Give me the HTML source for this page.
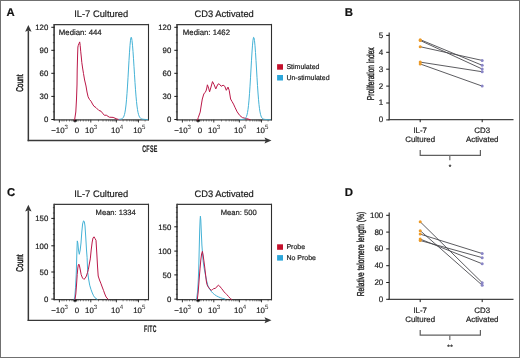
<!DOCTYPE html>
<html><head><meta charset="utf-8"><style>
html,body{margin:0;padding:0;background:#fff;}
svg{display:block;font-family:"Liberation Sans", sans-serif;will-change:transform;text-rendering:geometricPrecision;}
text{stroke:#222;stroke-width:0.2px;}
</style></head><body>
<svg width="520" height="358" viewBox="0 0 520 358">
<rect width="520" height="358" fill="#fff"/>
<text x="6.4" y="16.1" font-size="11.3" text-anchor="start" font-weight="bold" fill="#111">A</text>
<line x1="28.35" y1="30.5" x2="28.35" y2="141.2" stroke="#383838" stroke-width="1.5"/>
<polygon points="25.15,31.7 28.35,25.0 31.55,31.7 28.35,30.5" fill="#383838"/>
<line x1="27.65" y1="140.5" x2="266" y2="140.5" stroke="#383838" stroke-width="1.35"/>
<polygon points="264.5,137.5 271.5,140.5 264.5,143.5 265.8,140.5" fill="#383838"/>
<line x1="54.1" y1="23.9" x2="54.1" y2="120.55" stroke="#3a3a3a" stroke-width="1.6"/>
<line x1="148.5" y1="23.9" x2="148.5" y2="120.55" stroke="#2e2e2e" stroke-width="1.1"/>
<line x1="54.1" y1="24.6" x2="148.5" y2="24.6" stroke="#3c3c3c" stroke-width="1.4"/>
<line x1="54.1" y1="119.85" x2="148.5" y2="119.85" stroke="#3c3c3c" stroke-width="1.4"/>
<line x1="51.3" y1="27.3" x2="54.5" y2="27.3" stroke="#1a1a1a" stroke-width="1"/>
<text x="48.3" y="30.05" font-size="7.8" text-anchor="end" font-weight="normal" fill="#222">120</text>
<line x1="51.3" y1="50.3" x2="54.5" y2="50.3" stroke="#1a1a1a" stroke-width="1"/>
<text x="48.3" y="53.05" font-size="7.8" text-anchor="end" font-weight="normal" fill="#222">90</text>
<line x1="51.3" y1="73.3" x2="54.5" y2="73.3" stroke="#1a1a1a" stroke-width="1"/>
<text x="48.3" y="76.05" font-size="7.8" text-anchor="end" font-weight="normal" fill="#222">60</text>
<line x1="51.3" y1="96.4" x2="54.5" y2="96.4" stroke="#1a1a1a" stroke-width="1"/>
<text x="48.3" y="99.15" font-size="7.8" text-anchor="end" font-weight="normal" fill="#222">30</text>
<line x1="51.3" y1="119.5" x2="54.5" y2="119.5" stroke="#1a1a1a" stroke-width="1"/>
<text x="48.3" y="122.25" font-size="7.8" text-anchor="end" font-weight="normal" fill="#222">0</text>
<line x1="52.9" y1="111.82" x2="54.5" y2="111.82" stroke="#333" stroke-width="0.8"/>
<line x1="52.9" y1="104.13" x2="54.5" y2="104.13" stroke="#333" stroke-width="0.8"/>
<line x1="52.9" y1="88.77" x2="54.5" y2="88.77" stroke="#333" stroke-width="0.8"/>
<line x1="52.9" y1="81.08" x2="54.5" y2="81.08" stroke="#333" stroke-width="0.8"/>
<line x1="52.9" y1="65.72" x2="54.5" y2="65.72" stroke="#333" stroke-width="0.8"/>
<line x1="52.9" y1="58.03" x2="54.5" y2="58.03" stroke="#333" stroke-width="0.8"/>
<line x1="52.9" y1="42.67" x2="54.5" y2="42.67" stroke="#333" stroke-width="0.8"/>
<line x1="52.9" y1="34.98" x2="54.5" y2="34.98" stroke="#333" stroke-width="0.8"/>
<line x1="59.4" y1="119.8" x2="59.4" y2="122.5" stroke="#222" stroke-width="0.9"/>
<line x1="75" y1="119.8" x2="75" y2="122.5" stroke="#222" stroke-width="0.9"/>
<line x1="90.8" y1="119.8" x2="90.8" y2="122.5" stroke="#222" stroke-width="0.9"/>
<line x1="116.4" y1="119.8" x2="116.4" y2="122.5" stroke="#222" stroke-width="0.9"/>
<line x1="138.5" y1="119.8" x2="138.5" y2="122.5" stroke="#222" stroke-width="0.9"/>
<line x1="62" y1="119.8" x2="62" y2="121.5" stroke="#333" stroke-width="0.6"/>
<line x1="64" y1="119.8" x2="64" y2="121.5" stroke="#333" stroke-width="0.6"/>
<line x1="66.5" y1="119.8" x2="66.5" y2="121.5" stroke="#333" stroke-width="0.6"/>
<line x1="69.5" y1="119.8" x2="69.5" y2="121.5" stroke="#333" stroke-width="0.6"/>
<line x1="72" y1="119.8" x2="72" y2="121.5" stroke="#333" stroke-width="0.6"/>
<line x1="78" y1="119.8" x2="78" y2="121.5" stroke="#333" stroke-width="0.6"/>
<line x1="80.5" y1="119.8" x2="80.5" y2="121.5" stroke="#333" stroke-width="0.6"/>
<line x1="83.3" y1="119.8" x2="83.3" y2="121.5" stroke="#333" stroke-width="0.6"/>
<line x1="86" y1="119.8" x2="86" y2="121.5" stroke="#333" stroke-width="0.6"/>
<line x1="88.5" y1="119.8" x2="88.5" y2="121.5" stroke="#333" stroke-width="0.6"/>
<line x1="98.5" y1="119.8" x2="98.5" y2="121.5" stroke="#333" stroke-width="0.6"/>
<line x1="103" y1="119.8" x2="103" y2="121.5" stroke="#333" stroke-width="0.6"/>
<line x1="106.2" y1="119.8" x2="106.2" y2="121.5" stroke="#333" stroke-width="0.6"/>
<line x1="108.7" y1="119.8" x2="108.7" y2="121.5" stroke="#333" stroke-width="0.6"/>
<line x1="110.7" y1="119.8" x2="110.7" y2="121.5" stroke="#333" stroke-width="0.6"/>
<line x1="112.4" y1="119.8" x2="112.4" y2="121.5" stroke="#333" stroke-width="0.6"/>
<line x1="113.9" y1="119.8" x2="113.9" y2="121.5" stroke="#333" stroke-width="0.6"/>
<line x1="115.2" y1="119.8" x2="115.2" y2="121.5" stroke="#333" stroke-width="0.6"/>
<line x1="123.1" y1="119.8" x2="123.1" y2="121.5" stroke="#333" stroke-width="0.6"/>
<line x1="126.9" y1="119.8" x2="126.9" y2="121.5" stroke="#333" stroke-width="0.6"/>
<line x1="129.7" y1="119.8" x2="129.7" y2="121.5" stroke="#333" stroke-width="0.6"/>
<line x1="131.8" y1="119.8" x2="131.8" y2="121.5" stroke="#333" stroke-width="0.6"/>
<line x1="133.6" y1="119.8" x2="133.6" y2="121.5" stroke="#333" stroke-width="0.6"/>
<line x1="135.1" y1="119.8" x2="135.1" y2="121.5" stroke="#333" stroke-width="0.6"/>
<line x1="136.4" y1="119.8" x2="136.4" y2="121.5" stroke="#333" stroke-width="0.6"/>
<line x1="137.5" y1="119.8" x2="137.5" y2="121.5" stroke="#333" stroke-width="0.6"/>
<line x1="145.1" y1="119.8" x2="145.1" y2="121.5" stroke="#333" stroke-width="0.6"/>
<rect x="73.4" y="119.8" width="3.4" height="1.9" fill="#111"/>
<text x="59.6" y="132.7" font-size="7.9" text-anchor="middle" fill="#222">−10<tspan font-size="6.1" dy="-3.4" stroke-width="0">3</tspan></text>
<text x="77" y="132.7" font-size="7.9" text-anchor="middle" font-weight="normal" fill="#222">0</text>
<text x="91.1" y="132.7" font-size="7.9" text-anchor="middle" fill="#222">10<tspan font-size="6.1" dy="-3.4" stroke-width="0">3</tspan></text>
<text x="117.1" y="132.7" font-size="7.9" text-anchor="middle" fill="#222">10<tspan font-size="6.1" dy="-3.4" stroke-width="0">4</tspan></text>
<text x="139.3" y="132.7" font-size="7.9" text-anchor="middle" fill="#222">10<tspan font-size="6.1" dy="-3.4" stroke-width="0">5</tspan></text>
<line x1="177" y1="23.9" x2="177" y2="120.55" stroke="#3a3a3a" stroke-width="1.6"/>
<line x1="271.5" y1="23.9" x2="271.5" y2="120.55" stroke="#2e2e2e" stroke-width="1.1"/>
<line x1="177" y1="24.6" x2="271.5" y2="24.6" stroke="#3c3c3c" stroke-width="1.4"/>
<line x1="177" y1="119.85" x2="271.5" y2="119.85" stroke="#3c3c3c" stroke-width="1.4"/>
<line x1="174.3" y1="27.3" x2="177.5" y2="27.3" stroke="#1a1a1a" stroke-width="1"/>
<text x="171.3" y="30.05" font-size="7.8" text-anchor="end" font-weight="normal" fill="#222">120</text>
<line x1="174.3" y1="50.3" x2="177.5" y2="50.3" stroke="#1a1a1a" stroke-width="1"/>
<text x="171.3" y="53.05" font-size="7.8" text-anchor="end" font-weight="normal" fill="#222">90</text>
<line x1="174.3" y1="73.3" x2="177.5" y2="73.3" stroke="#1a1a1a" stroke-width="1"/>
<text x="171.3" y="76.05" font-size="7.8" text-anchor="end" font-weight="normal" fill="#222">60</text>
<line x1="174.3" y1="96.4" x2="177.5" y2="96.4" stroke="#1a1a1a" stroke-width="1"/>
<text x="171.3" y="99.15" font-size="7.8" text-anchor="end" font-weight="normal" fill="#222">30</text>
<line x1="174.3" y1="119.5" x2="177.5" y2="119.5" stroke="#1a1a1a" stroke-width="1"/>
<text x="171.3" y="122.25" font-size="7.8" text-anchor="end" font-weight="normal" fill="#222">0</text>
<line x1="175.9" y1="111.82" x2="177.5" y2="111.82" stroke="#333" stroke-width="0.8"/>
<line x1="175.9" y1="104.13" x2="177.5" y2="104.13" stroke="#333" stroke-width="0.8"/>
<line x1="175.9" y1="88.77" x2="177.5" y2="88.77" stroke="#333" stroke-width="0.8"/>
<line x1="175.9" y1="81.08" x2="177.5" y2="81.08" stroke="#333" stroke-width="0.8"/>
<line x1="175.9" y1="65.72" x2="177.5" y2="65.72" stroke="#333" stroke-width="0.8"/>
<line x1="175.9" y1="58.03" x2="177.5" y2="58.03" stroke="#333" stroke-width="0.8"/>
<line x1="175.9" y1="42.67" x2="177.5" y2="42.67" stroke="#333" stroke-width="0.8"/>
<line x1="175.9" y1="34.98" x2="177.5" y2="34.98" stroke="#333" stroke-width="0.8"/>
<line x1="182.4" y1="119.8" x2="182.4" y2="122.5" stroke="#222" stroke-width="0.9"/>
<line x1="198" y1="119.8" x2="198" y2="122.5" stroke="#222" stroke-width="0.9"/>
<line x1="213.8" y1="119.8" x2="213.8" y2="122.5" stroke="#222" stroke-width="0.9"/>
<line x1="239.4" y1="119.8" x2="239.4" y2="122.5" stroke="#222" stroke-width="0.9"/>
<line x1="261.5" y1="119.8" x2="261.5" y2="122.5" stroke="#222" stroke-width="0.9"/>
<line x1="185" y1="119.8" x2="185" y2="121.5" stroke="#333" stroke-width="0.6"/>
<line x1="187" y1="119.8" x2="187" y2="121.5" stroke="#333" stroke-width="0.6"/>
<line x1="189.5" y1="119.8" x2="189.5" y2="121.5" stroke="#333" stroke-width="0.6"/>
<line x1="192.5" y1="119.8" x2="192.5" y2="121.5" stroke="#333" stroke-width="0.6"/>
<line x1="195" y1="119.8" x2="195" y2="121.5" stroke="#333" stroke-width="0.6"/>
<line x1="201" y1="119.8" x2="201" y2="121.5" stroke="#333" stroke-width="0.6"/>
<line x1="203.5" y1="119.8" x2="203.5" y2="121.5" stroke="#333" stroke-width="0.6"/>
<line x1="206.3" y1="119.8" x2="206.3" y2="121.5" stroke="#333" stroke-width="0.6"/>
<line x1="209" y1="119.8" x2="209" y2="121.5" stroke="#333" stroke-width="0.6"/>
<line x1="211.5" y1="119.8" x2="211.5" y2="121.5" stroke="#333" stroke-width="0.6"/>
<line x1="221.5" y1="119.8" x2="221.5" y2="121.5" stroke="#333" stroke-width="0.6"/>
<line x1="226" y1="119.8" x2="226" y2="121.5" stroke="#333" stroke-width="0.6"/>
<line x1="229.2" y1="119.8" x2="229.2" y2="121.5" stroke="#333" stroke-width="0.6"/>
<line x1="231.7" y1="119.8" x2="231.7" y2="121.5" stroke="#333" stroke-width="0.6"/>
<line x1="233.7" y1="119.8" x2="233.7" y2="121.5" stroke="#333" stroke-width="0.6"/>
<line x1="235.4" y1="119.8" x2="235.4" y2="121.5" stroke="#333" stroke-width="0.6"/>
<line x1="236.9" y1="119.8" x2="236.9" y2="121.5" stroke="#333" stroke-width="0.6"/>
<line x1="238.2" y1="119.8" x2="238.2" y2="121.5" stroke="#333" stroke-width="0.6"/>
<line x1="246.1" y1="119.8" x2="246.1" y2="121.5" stroke="#333" stroke-width="0.6"/>
<line x1="249.9" y1="119.8" x2="249.9" y2="121.5" stroke="#333" stroke-width="0.6"/>
<line x1="252.7" y1="119.8" x2="252.7" y2="121.5" stroke="#333" stroke-width="0.6"/>
<line x1="254.8" y1="119.8" x2="254.8" y2="121.5" stroke="#333" stroke-width="0.6"/>
<line x1="256.6" y1="119.8" x2="256.6" y2="121.5" stroke="#333" stroke-width="0.6"/>
<line x1="258.1" y1="119.8" x2="258.1" y2="121.5" stroke="#333" stroke-width="0.6"/>
<line x1="259.4" y1="119.8" x2="259.4" y2="121.5" stroke="#333" stroke-width="0.6"/>
<line x1="260.5" y1="119.8" x2="260.5" y2="121.5" stroke="#333" stroke-width="0.6"/>
<line x1="268.1" y1="119.8" x2="268.1" y2="121.5" stroke="#333" stroke-width="0.6"/>
<rect x="196.4" y="119.8" width="3.4" height="1.9" fill="#111"/>
<text x="182.6" y="132.7" font-size="7.9" text-anchor="middle" fill="#222">−10<tspan font-size="6.1" dy="-3.4" stroke-width="0">3</tspan></text>
<text x="200" y="132.7" font-size="7.9" text-anchor="middle" font-weight="normal" fill="#222">0</text>
<text x="214.1" y="132.7" font-size="7.9" text-anchor="middle" fill="#222">10<tspan font-size="6.1" dy="-3.4" stroke-width="0">3</tspan></text>
<text x="240.1" y="132.7" font-size="7.9" text-anchor="middle" fill="#222">10<tspan font-size="6.1" dy="-3.4" stroke-width="0">4</tspan></text>
<text x="262.3" y="132.7" font-size="7.9" text-anchor="middle" fill="#222">10<tspan font-size="6.1" dy="-3.4" stroke-width="0">5</tspan></text>
<text transform="translate(142.2,151.7) scale(0.56,1)" x="0" y="0" font-size="9.6" letter-spacing="0.5" text-anchor="start" font-weight="bold" fill="#222">CFSE</text>
<text transform="translate(20.3,83.2) rotate(-90) scale(0.66,1)" x="0" y="0" font-size="9.8" text-anchor="middle" dominant-baseline="central" font-weight="normal" fill="#222" style="stroke-width:0.5px">Count</text>
<text x="101.2" y="16.9" font-size="9.35" text-anchor="middle" font-weight="normal" fill="#1a1a1a">IL-7 Cultured</text>
<text x="224.2" y="17" font-size="9.35" text-anchor="middle" font-weight="normal" fill="#1a1a1a">CD3 Activated</text>
<text x="58.8" y="35.2" font-size="7.8" text-anchor="start" font-weight="normal" fill="#222">Median: 444</text>
<text x="182.8" y="35.2" font-size="7.8" text-anchor="start" font-weight="normal" fill="#222">Median: 1462</text>
<rect x="277.1" y="64.2" width="5.9" height="5.5" fill="#c4102c"/>
<text x="286.4" y="69.2" font-size="7" text-anchor="start" font-weight="normal" fill="#222">Stimulated</text>
<rect x="277.1" y="75" width="5.9" height="5.5" fill="#2ba6da"/>
<text x="286.4" y="80" font-size="7" text-anchor="start" font-weight="normal" fill="#222">Un-stimulated</text>
<polyline points="74.60,120.00 75.20,116.00 75.80,112.00 76.50,99.00 77.00,85.00 77.20,70.00 77.60,55.00 77.90,47.00 78.30,45.30 79.00,43.50 79.70,41.90 80.20,45.50 80.70,51.20 81.30,57.00 81.80,62.40 82.60,68.00 83.50,73.60 84.60,80.00 85.30,83.00 86.00,86.00 87.00,92.00 88.10,96.80 89.50,99.50 91.00,101.20 92.50,104.00 93.90,106.20 96.00,107.60 98.80,110.40 101.00,111.20 102.50,113.10 104.40,115.30 106.30,115.20 109.30,117.20 113.10,117.40 116.90,119.00 120.00,119.80" fill="none" stroke="#bb1848" stroke-width="1.0" stroke-linejoin="round" stroke-linecap="round"/>
<polyline points="119.00,119.38 119.50,119.33 120.00,119.26 120.50,119.18 121.00,119.07 121.50,118.92 122.00,118.70 122.50,118.37 123.00,117.87 123.50,117.13 124.00,116.03 124.50,114.43 125.00,112.16 125.50,109.07 126.00,104.99 126.50,99.79 127.00,93.46 127.50,86.05 128.00,77.79 128.50,69.05 129.00,60.32 129.50,52.21 130.00,45.32 130.50,40.21 131.00,37.30 131.50,37.58 132.00,40.49 132.50,45.22 133.00,51.46 133.50,58.77 134.00,66.70 134.50,74.76 135.00,82.56 135.50,89.75 136.00,96.13 136.50,101.56 137.00,106.03 137.50,109.59 138.00,112.34 138.50,114.39 139.00,115.89 139.50,116.96 140.00,117.70 140.50,118.22 141.00,118.57 141.50,118.81 142.00,118.98 142.50,119.11 143.00,119.20 143.50,119.27 144.00,119.33 144.50,119.38 145.00,119.42 145.50,119.46 146.00,119.50 146.50,119.53 147.00,119.55 147.50,119.58" fill="none" stroke="#44b2d6" stroke-width="1.0" stroke-linejoin="round" stroke-linecap="round"/>
<polyline points="197.50,120.00 198.30,117.50 200.20,112.10 201.30,105.00 202.30,99.00 203.80,94.00 205.00,92.50 206.00,91.00 206.80,88.00 207.40,84.80 208.60,88.10 209.60,91.80 211.00,87.00 212.50,81.60 214.00,84.50 215.80,88.90 217.00,86.00 218.30,83.80 219.80,84.50 221.20,86.30 223.10,85.20 224.80,86.30 226.30,90.30 228.00,87.10 229.20,90.30 230.60,99.00 232.00,101.50 233.50,104.10 235.20,107.80 237.20,111.90 239.80,115.50 242.40,117.60 246.50,118.60 250.00,119.60" fill="none" stroke="#bb1848" stroke-width="1.0" stroke-linejoin="round" stroke-linecap="round"/>
<polyline points="240.00,119.62 240.50,119.59 241.00,119.57 241.50,119.54 242.00,119.50 242.50,119.46 243.00,119.40 243.50,119.31 244.00,119.19 244.50,119.00 245.00,118.70 245.50,118.24 246.00,117.52 246.50,116.44 247.00,114.85 247.50,112.59 248.00,109.49 248.50,105.37 249.00,100.12 249.50,93.70 250.00,86.20 250.50,77.83 251.00,68.98 251.50,60.17 252.00,52.01 252.50,45.13 253.00,40.12 253.50,37.39 254.00,37.70 254.50,40.70 255.00,45.80 255.50,52.57 256.00,60.50 256.50,69.01 257.00,77.56 257.50,85.66 258.00,92.99 258.50,99.31 259.00,104.55 259.50,108.72 260.00,111.93 260.50,114.30 261.00,116.01 261.50,117.19 262.00,118.00 262.50,118.53 263.00,118.88 263.50,119.10 264.00,119.25 264.50,119.35 265.00,119.42 265.50,119.47 266.00,119.51 266.50,119.55 267.00,119.57 267.50,119.60 268.00,119.62 268.50,119.64 269.00,119.66 269.50,119.67 270.00,119.68" fill="none" stroke="#44b2d6" stroke-width="1.0" stroke-linejoin="round" stroke-linecap="round"/>
<text x="6.9" y="196.4" font-size="11.3" text-anchor="start" font-weight="bold" fill="#111">C</text>
<line x1="28.35" y1="210.3" x2="28.35" y2="321" stroke="#383838" stroke-width="1.5"/>
<polygon points="25.15,211.5 28.35,204.8 31.55,211.5 28.35,210.3" fill="#383838"/>
<line x1="27.65" y1="320.3" x2="266" y2="320.3" stroke="#383838" stroke-width="1.35"/>
<polygon points="264.5,317.3 271.5,320.3 264.5,323.3 265.8,320.3" fill="#383838"/>
<line x1="54.1" y1="203.7" x2="54.1" y2="300.35" stroke="#3a3a3a" stroke-width="1.6"/>
<line x1="148.5" y1="203.7" x2="148.5" y2="300.35" stroke="#2e2e2e" stroke-width="1.1"/>
<line x1="54.1" y1="204.4" x2="148.5" y2="204.4" stroke="#3c3c3c" stroke-width="1.4"/>
<line x1="54.1" y1="299.65" x2="148.5" y2="299.65" stroke="#3c3c3c" stroke-width="1.4"/>
<line x1="51.3" y1="218.4" x2="54.5" y2="218.4" stroke="#1a1a1a" stroke-width="1"/>
<text x="48.3" y="221.15" font-size="7.8" text-anchor="end" font-weight="normal" fill="#222">150</text>
<line x1="51.3" y1="245.8" x2="54.5" y2="245.8" stroke="#1a1a1a" stroke-width="1"/>
<text x="48.3" y="248.55" font-size="7.8" text-anchor="end" font-weight="normal" fill="#222">100</text>
<line x1="51.3" y1="272" x2="54.5" y2="272" stroke="#1a1a1a" stroke-width="1"/>
<text x="48.3" y="274.75" font-size="7.8" text-anchor="end" font-weight="normal" fill="#222">50</text>
<line x1="51.3" y1="299.1" x2="54.5" y2="299.1" stroke="#1a1a1a" stroke-width="1"/>
<text x="48.3" y="301.85" font-size="7.8" text-anchor="end" font-weight="normal" fill="#222">0</text>
<line x1="52.9" y1="293.72" x2="54.5" y2="293.72" stroke="#333" stroke-width="0.8"/>
<line x1="52.9" y1="288.34" x2="54.5" y2="288.34" stroke="#333" stroke-width="0.8"/>
<line x1="52.9" y1="282.96" x2="54.5" y2="282.96" stroke="#333" stroke-width="0.8"/>
<line x1="52.9" y1="277.58" x2="54.5" y2="277.58" stroke="#333" stroke-width="0.8"/>
<line x1="52.9" y1="266.82" x2="54.5" y2="266.82" stroke="#333" stroke-width="0.8"/>
<line x1="52.9" y1="261.44" x2="54.5" y2="261.44" stroke="#333" stroke-width="0.8"/>
<line x1="52.9" y1="256.06" x2="54.5" y2="256.06" stroke="#333" stroke-width="0.8"/>
<line x1="52.9" y1="250.68" x2="54.5" y2="250.68" stroke="#333" stroke-width="0.8"/>
<line x1="52.9" y1="239.92" x2="54.5" y2="239.92" stroke="#333" stroke-width="0.8"/>
<line x1="52.9" y1="234.54" x2="54.5" y2="234.54" stroke="#333" stroke-width="0.8"/>
<line x1="52.9" y1="229.16" x2="54.5" y2="229.16" stroke="#333" stroke-width="0.8"/>
<line x1="52.9" y1="223.78" x2="54.5" y2="223.78" stroke="#333" stroke-width="0.8"/>
<line x1="52.9" y1="213.02" x2="54.5" y2="213.02" stroke="#333" stroke-width="0.8"/>
<line x1="52.9" y1="207.64" x2="54.5" y2="207.64" stroke="#333" stroke-width="0.8"/>
<line x1="59.4" y1="299.6" x2="59.4" y2="302.3" stroke="#222" stroke-width="0.9"/>
<line x1="75" y1="299.6" x2="75" y2="302.3" stroke="#222" stroke-width="0.9"/>
<line x1="90.8" y1="299.6" x2="90.8" y2="302.3" stroke="#222" stroke-width="0.9"/>
<line x1="116.4" y1="299.6" x2="116.4" y2="302.3" stroke="#222" stroke-width="0.9"/>
<line x1="138.5" y1="299.6" x2="138.5" y2="302.3" stroke="#222" stroke-width="0.9"/>
<line x1="62" y1="299.6" x2="62" y2="301.3" stroke="#333" stroke-width="0.6"/>
<line x1="64" y1="299.6" x2="64" y2="301.3" stroke="#333" stroke-width="0.6"/>
<line x1="66.5" y1="299.6" x2="66.5" y2="301.3" stroke="#333" stroke-width="0.6"/>
<line x1="69.5" y1="299.6" x2="69.5" y2="301.3" stroke="#333" stroke-width="0.6"/>
<line x1="72" y1="299.6" x2="72" y2="301.3" stroke="#333" stroke-width="0.6"/>
<line x1="78" y1="299.6" x2="78" y2="301.3" stroke="#333" stroke-width="0.6"/>
<line x1="80.5" y1="299.6" x2="80.5" y2="301.3" stroke="#333" stroke-width="0.6"/>
<line x1="83.3" y1="299.6" x2="83.3" y2="301.3" stroke="#333" stroke-width="0.6"/>
<line x1="86" y1="299.6" x2="86" y2="301.3" stroke="#333" stroke-width="0.6"/>
<line x1="88.5" y1="299.6" x2="88.5" y2="301.3" stroke="#333" stroke-width="0.6"/>
<line x1="98.5" y1="299.6" x2="98.5" y2="301.3" stroke="#333" stroke-width="0.6"/>
<line x1="103" y1="299.6" x2="103" y2="301.3" stroke="#333" stroke-width="0.6"/>
<line x1="106.2" y1="299.6" x2="106.2" y2="301.3" stroke="#333" stroke-width="0.6"/>
<line x1="108.7" y1="299.6" x2="108.7" y2="301.3" stroke="#333" stroke-width="0.6"/>
<line x1="110.7" y1="299.6" x2="110.7" y2="301.3" stroke="#333" stroke-width="0.6"/>
<line x1="112.4" y1="299.6" x2="112.4" y2="301.3" stroke="#333" stroke-width="0.6"/>
<line x1="113.9" y1="299.6" x2="113.9" y2="301.3" stroke="#333" stroke-width="0.6"/>
<line x1="115.2" y1="299.6" x2="115.2" y2="301.3" stroke="#333" stroke-width="0.6"/>
<line x1="123.1" y1="299.6" x2="123.1" y2="301.3" stroke="#333" stroke-width="0.6"/>
<line x1="126.9" y1="299.6" x2="126.9" y2="301.3" stroke="#333" stroke-width="0.6"/>
<line x1="129.7" y1="299.6" x2="129.7" y2="301.3" stroke="#333" stroke-width="0.6"/>
<line x1="131.8" y1="299.6" x2="131.8" y2="301.3" stroke="#333" stroke-width="0.6"/>
<line x1="133.6" y1="299.6" x2="133.6" y2="301.3" stroke="#333" stroke-width="0.6"/>
<line x1="135.1" y1="299.6" x2="135.1" y2="301.3" stroke="#333" stroke-width="0.6"/>
<line x1="136.4" y1="299.6" x2="136.4" y2="301.3" stroke="#333" stroke-width="0.6"/>
<line x1="137.5" y1="299.6" x2="137.5" y2="301.3" stroke="#333" stroke-width="0.6"/>
<line x1="145.1" y1="299.6" x2="145.1" y2="301.3" stroke="#333" stroke-width="0.6"/>
<rect x="73.4" y="299.6" width="3.4" height="1.9" fill="#111"/>
<text x="59.6" y="312.5" font-size="7.9" text-anchor="middle" fill="#222">−10<tspan font-size="6.1" dy="-3.4" stroke-width="0">3</tspan></text>
<text x="77" y="312.5" font-size="7.9" text-anchor="middle" font-weight="normal" fill="#222">0</text>
<text x="91.1" y="312.5" font-size="7.9" text-anchor="middle" fill="#222">10<tspan font-size="6.1" dy="-3.4" stroke-width="0">3</tspan></text>
<text x="117.1" y="312.5" font-size="7.9" text-anchor="middle" fill="#222">10<tspan font-size="6.1" dy="-3.4" stroke-width="0">4</tspan></text>
<text x="139.3" y="312.5" font-size="7.9" text-anchor="middle" fill="#222">10<tspan font-size="6.1" dy="-3.4" stroke-width="0">5</tspan></text>
<line x1="177" y1="203.7" x2="177" y2="300.35" stroke="#3a3a3a" stroke-width="1.6"/>
<line x1="271.5" y1="203.7" x2="271.5" y2="300.35" stroke="#2e2e2e" stroke-width="1.1"/>
<line x1="177" y1="204.4" x2="271.5" y2="204.4" stroke="#3c3c3c" stroke-width="1.4"/>
<line x1="177" y1="299.65" x2="271.5" y2="299.65" stroke="#3c3c3c" stroke-width="1.4"/>
<line x1="174.3" y1="226.8" x2="177.5" y2="226.8" stroke="#1a1a1a" stroke-width="1"/>
<text x="171.3" y="229.55" font-size="7.8" text-anchor="end" font-weight="normal" fill="#222">150</text>
<line x1="174.3" y1="251.1" x2="177.5" y2="251.1" stroke="#1a1a1a" stroke-width="1"/>
<text x="171.3" y="253.85" font-size="7.8" text-anchor="end" font-weight="normal" fill="#222">100</text>
<line x1="174.3" y1="274.9" x2="177.5" y2="274.9" stroke="#1a1a1a" stroke-width="1"/>
<text x="171.3" y="277.65" font-size="7.8" text-anchor="end" font-weight="normal" fill="#222">50</text>
<line x1="174.3" y1="299.1" x2="177.5" y2="299.1" stroke="#1a1a1a" stroke-width="1"/>
<text x="171.3" y="301.85" font-size="7.8" text-anchor="end" font-weight="normal" fill="#222">0</text>
<line x1="175.9" y1="294.28" x2="177.5" y2="294.28" stroke="#333" stroke-width="0.8"/>
<line x1="175.9" y1="289.46" x2="177.5" y2="289.46" stroke="#333" stroke-width="0.8"/>
<line x1="175.9" y1="284.64" x2="177.5" y2="284.64" stroke="#333" stroke-width="0.8"/>
<line x1="175.9" y1="279.82" x2="177.5" y2="279.82" stroke="#333" stroke-width="0.8"/>
<line x1="175.9" y1="270.18" x2="177.5" y2="270.18" stroke="#333" stroke-width="0.8"/>
<line x1="175.9" y1="265.36" x2="177.5" y2="265.36" stroke="#333" stroke-width="0.8"/>
<line x1="175.9" y1="260.54" x2="177.5" y2="260.54" stroke="#333" stroke-width="0.8"/>
<line x1="175.9" y1="255.72" x2="177.5" y2="255.72" stroke="#333" stroke-width="0.8"/>
<line x1="175.9" y1="246.08" x2="177.5" y2="246.08" stroke="#333" stroke-width="0.8"/>
<line x1="175.9" y1="241.26" x2="177.5" y2="241.26" stroke="#333" stroke-width="0.8"/>
<line x1="175.9" y1="236.44" x2="177.5" y2="236.44" stroke="#333" stroke-width="0.8"/>
<line x1="175.9" y1="231.62" x2="177.5" y2="231.62" stroke="#333" stroke-width="0.8"/>
<line x1="175.9" y1="221.98" x2="177.5" y2="221.98" stroke="#333" stroke-width="0.8"/>
<line x1="175.9" y1="217.16" x2="177.5" y2="217.16" stroke="#333" stroke-width="0.8"/>
<line x1="175.9" y1="212.34" x2="177.5" y2="212.34" stroke="#333" stroke-width="0.8"/>
<line x1="175.9" y1="207.52" x2="177.5" y2="207.52" stroke="#333" stroke-width="0.8"/>
<line x1="182.4" y1="299.6" x2="182.4" y2="302.3" stroke="#222" stroke-width="0.9"/>
<line x1="198" y1="299.6" x2="198" y2="302.3" stroke="#222" stroke-width="0.9"/>
<line x1="213.8" y1="299.6" x2="213.8" y2="302.3" stroke="#222" stroke-width="0.9"/>
<line x1="239.4" y1="299.6" x2="239.4" y2="302.3" stroke="#222" stroke-width="0.9"/>
<line x1="261.5" y1="299.6" x2="261.5" y2="302.3" stroke="#222" stroke-width="0.9"/>
<line x1="185" y1="299.6" x2="185" y2="301.3" stroke="#333" stroke-width="0.6"/>
<line x1="187" y1="299.6" x2="187" y2="301.3" stroke="#333" stroke-width="0.6"/>
<line x1="189.5" y1="299.6" x2="189.5" y2="301.3" stroke="#333" stroke-width="0.6"/>
<line x1="192.5" y1="299.6" x2="192.5" y2="301.3" stroke="#333" stroke-width="0.6"/>
<line x1="195" y1="299.6" x2="195" y2="301.3" stroke="#333" stroke-width="0.6"/>
<line x1="201" y1="299.6" x2="201" y2="301.3" stroke="#333" stroke-width="0.6"/>
<line x1="203.5" y1="299.6" x2="203.5" y2="301.3" stroke="#333" stroke-width="0.6"/>
<line x1="206.3" y1="299.6" x2="206.3" y2="301.3" stroke="#333" stroke-width="0.6"/>
<line x1="209" y1="299.6" x2="209" y2="301.3" stroke="#333" stroke-width="0.6"/>
<line x1="211.5" y1="299.6" x2="211.5" y2="301.3" stroke="#333" stroke-width="0.6"/>
<line x1="221.5" y1="299.6" x2="221.5" y2="301.3" stroke="#333" stroke-width="0.6"/>
<line x1="226" y1="299.6" x2="226" y2="301.3" stroke="#333" stroke-width="0.6"/>
<line x1="229.2" y1="299.6" x2="229.2" y2="301.3" stroke="#333" stroke-width="0.6"/>
<line x1="231.7" y1="299.6" x2="231.7" y2="301.3" stroke="#333" stroke-width="0.6"/>
<line x1="233.7" y1="299.6" x2="233.7" y2="301.3" stroke="#333" stroke-width="0.6"/>
<line x1="235.4" y1="299.6" x2="235.4" y2="301.3" stroke="#333" stroke-width="0.6"/>
<line x1="236.9" y1="299.6" x2="236.9" y2="301.3" stroke="#333" stroke-width="0.6"/>
<line x1="238.2" y1="299.6" x2="238.2" y2="301.3" stroke="#333" stroke-width="0.6"/>
<line x1="246.1" y1="299.6" x2="246.1" y2="301.3" stroke="#333" stroke-width="0.6"/>
<line x1="249.9" y1="299.6" x2="249.9" y2="301.3" stroke="#333" stroke-width="0.6"/>
<line x1="252.7" y1="299.6" x2="252.7" y2="301.3" stroke="#333" stroke-width="0.6"/>
<line x1="254.8" y1="299.6" x2="254.8" y2="301.3" stroke="#333" stroke-width="0.6"/>
<line x1="256.6" y1="299.6" x2="256.6" y2="301.3" stroke="#333" stroke-width="0.6"/>
<line x1="258.1" y1="299.6" x2="258.1" y2="301.3" stroke="#333" stroke-width="0.6"/>
<line x1="259.4" y1="299.6" x2="259.4" y2="301.3" stroke="#333" stroke-width="0.6"/>
<line x1="260.5" y1="299.6" x2="260.5" y2="301.3" stroke="#333" stroke-width="0.6"/>
<line x1="268.1" y1="299.6" x2="268.1" y2="301.3" stroke="#333" stroke-width="0.6"/>
<rect x="196.4" y="299.6" width="3.4" height="1.9" fill="#111"/>
<text x="182.6" y="312.5" font-size="7.9" text-anchor="middle" fill="#222">−10<tspan font-size="6.1" dy="-3.4" stroke-width="0">3</tspan></text>
<text x="200" y="312.5" font-size="7.9" text-anchor="middle" font-weight="normal" fill="#222">0</text>
<text x="214.1" y="312.5" font-size="7.9" text-anchor="middle" fill="#222">10<tspan font-size="6.1" dy="-3.4" stroke-width="0">3</tspan></text>
<text x="240.1" y="312.5" font-size="7.9" text-anchor="middle" fill="#222">10<tspan font-size="6.1" dy="-3.4" stroke-width="0">4</tspan></text>
<text x="262.3" y="312.5" font-size="7.9" text-anchor="middle" fill="#222">10<tspan font-size="6.1" dy="-3.4" stroke-width="0">5</tspan></text>
<text transform="translate(143.9,331.5) scale(0.53,1)" x="0" y="0" font-size="9.6" letter-spacing="0.7" text-anchor="start" font-weight="bold" fill="#222">FITC</text>
<text transform="translate(20.3,263.0) rotate(-90) scale(0.66,1)" x="0" y="0" font-size="9.8" text-anchor="middle" dominant-baseline="central" font-weight="normal" fill="#222" style="stroke-width:0.5px">Count</text>
<text x="101.2" y="196.7" font-size="9.35" text-anchor="middle" font-weight="normal" fill="#1a1a1a">IL-7 Cultured</text>
<text x="224.2" y="196.8" font-size="9.35" text-anchor="middle" font-weight="normal" fill="#1a1a1a">CD3 Activated</text>
<text x="95.6" y="215" font-size="7.6" text-anchor="start" font-weight="normal" fill="#222">Mean: 1334</text>
<text x="220.8" y="214.9" font-size="7.6" text-anchor="start" font-weight="normal" fill="#222">Mean: 500</text>
<rect x="277.1" y="244.3" width="5.9" height="5.5" fill="#c4102c"/>
<text x="286.4" y="249.3" font-size="7" text-anchor="start" font-weight="normal" fill="#222">Probe</text>
<rect x="277.1" y="255.1" width="5.9" height="5.5" fill="#2ba6da"/>
<text x="286.4" y="260.1" font-size="7" text-anchor="start" font-weight="normal" fill="#222">No Probe</text>
<polyline points="74.20,299.30 74.80,297.00 75.50,287.80 76.20,275.00 76.60,262.00 77.00,248.00 77.30,240.90 77.80,243.00 78.50,250.00 79.30,254.30 80.20,250.00 81.00,243.00 81.80,232.00 82.60,224.00 83.50,220.90 84.30,221.50 85.00,226.00 85.80,238.00 86.50,250.00 87.10,257.60 87.70,272.00 88.60,279.00 89.70,285.20 91.00,289.50 92.30,293.00 93.60,295.80 94.90,297.70 97.00,299.20" fill="none" stroke="#44b2d6" stroke-width="1.0" stroke-linejoin="round" stroke-linecap="round"/>
<polyline points="75.00,299.30 75.80,294.00 76.50,285.00 77.20,274.70 77.80,268.00 78.30,265.00 78.90,264.20 79.50,266.00 80.30,270.00 81.20,274.70 82.50,278.00 83.80,279.30 85.00,278.50 86.40,276.00 87.50,272.50 88.40,269.40 89.30,264.00 90.30,258.90 91.20,250.00 92.20,242.00 93.00,238.00 94.00,236.80 95.00,238.50 96.00,240.30 96.90,255.00 97.50,266.00 98.20,276.00 99.50,280.00 100.80,283.20 102.20,287.00 103.50,290.40 104.80,294.00 106.10,297.00 108.00,299.20" fill="none" stroke="#bb1848" stroke-width="1.0" stroke-linejoin="round" stroke-linecap="round"/>
<polyline points="196.60,299.30 197.50,292.00 198.20,282.00 198.70,270.00 199.20,250.00 199.70,230.00 200.10,220.00 200.40,216.20 200.80,220.00 201.30,232.00 201.90,245.00 202.50,253.00 203.10,260.90 204.20,268.50 205.50,275.30 206.70,281.00 207.90,285.60 209.50,288.80 211.10,291.20 212.70,293.00 214.30,294.40 216.30,295.80 218.30,296.80 220.30,297.70 222.30,298.30 225.00,299.00" fill="none" stroke="#44b2d6" stroke-width="1.0" stroke-linejoin="round" stroke-linecap="round"/>
<polyline points="197.30,299.30 198.20,292.00 199.10,280.00 200.00,268.90 200.80,260.00 201.60,254.00 202.40,251.40 203.10,255.00 203.90,260.90 204.70,267.00 205.50,274.00 206.30,281.00 207.00,284.50 207.80,286.30 208.80,287.80 210.00,289.30 211.30,290.30 212.40,289.60 213.40,288.80 215.20,288.30 216.50,287.40 217.50,285.80 218.30,285.20 219.60,286.10 221.40,288.30 222.80,290.10 224.10,291.90 225.50,293.30 226.80,294.60 228.60,296.60 230.40,298.60 231.60,299.40" fill="none" stroke="#bb1848" stroke-width="1.0" stroke-linejoin="round" stroke-linecap="round"/>
<text x="344.7" y="16.15" font-size="11.4" text-anchor="start" font-weight="bold" fill="#111">B</text>
<line x1="389.2" y1="32.6" x2="389.2" y2="120.2" stroke="#333" stroke-width="1.2"/>
<line x1="388.6" y1="119.55" x2="513.5" y2="119.55" stroke="#444" stroke-width="1.3"/>
<line x1="386.2" y1="119.9" x2="389.2" y2="119.9" stroke="#1a1a1a" stroke-width="1"/>
<text x="383.3" y="122.3" font-size="8" text-anchor="end" font-weight="normal" fill="#222">0</text>
<line x1="386.2" y1="103" x2="389.2" y2="103" stroke="#1a1a1a" stroke-width="1"/>
<text x="383.3" y="105.4" font-size="8" text-anchor="end" font-weight="normal" fill="#222">1</text>
<line x1="386.2" y1="86.1" x2="389.2" y2="86.1" stroke="#1a1a1a" stroke-width="1"/>
<text x="383.3" y="88.5" font-size="8" text-anchor="end" font-weight="normal" fill="#222">2</text>
<line x1="386.2" y1="69.2" x2="389.2" y2="69.2" stroke="#1a1a1a" stroke-width="1"/>
<text x="383.3" y="71.6" font-size="8" text-anchor="end" font-weight="normal" fill="#222">3</text>
<line x1="386.2" y1="52.3" x2="389.2" y2="52.3" stroke="#1a1a1a" stroke-width="1"/>
<text x="383.3" y="54.7" font-size="8" text-anchor="end" font-weight="normal" fill="#222">4</text>
<line x1="386.2" y1="35.4" x2="389.2" y2="35.4" stroke="#1a1a1a" stroke-width="1"/>
<text x="383.3" y="37.8" font-size="8" text-anchor="end" font-weight="normal" fill="#222">5</text>
<line x1="420.2" y1="119.6" x2="420.2" y2="122.2" stroke="#1a1a1a" stroke-width="1"/>
<line x1="482.2" y1="119.6" x2="482.2" y2="122.2" stroke="#1a1a1a" stroke-width="1"/>
<text x="420.2" y="132.7" font-size="7.9" text-anchor="middle" font-weight="normal" fill="#222">IL-7</text>
<text x="420.2" y="142.3" font-size="7.9" text-anchor="middle" font-weight="normal" fill="#222">Cultured</text>
<text x="482.2" y="132.7" font-size="7.9" text-anchor="middle" font-weight="normal" fill="#222">CD3</text>
<text x="482.2" y="142.3" font-size="7.9" text-anchor="middle" font-weight="normal" fill="#222">Activated</text>
<text transform="translate(371.1,73.8) rotate(-90) scale(0.66,1)" x="0" y="0" font-size="10" text-anchor="middle" dominant-baseline="central" font-weight="normal" fill="#222" style="stroke-width:0.4px">Proliferation index</text>
<line x1="420.2" y1="39.63" x2="482.2" y2="65.31" stroke="#4a4a4e" stroke-width="0.9"/>
<line x1="420.2" y1="40.47" x2="482.2" y2="69.03" stroke="#4a4a4e" stroke-width="0.9"/>
<line x1="420.2" y1="46.72" x2="482.2" y2="60.41" stroke="#4a4a4e" stroke-width="0.9"/>
<line x1="420.2" y1="62.1" x2="482.2" y2="71.74" stroke="#4a4a4e" stroke-width="0.9"/>
<line x1="420.2" y1="63.96" x2="482.2" y2="86.1" stroke="#4a4a4e" stroke-width="0.9"/>
<circle cx="420.2" cy="39.63" r="1.5" fill="#ec9a28"/>
<circle cx="482.2" cy="65.31" r="1.5" fill="#8a86c6"/>
<circle cx="420.2" cy="40.47" r="1.5" fill="#ec9a28"/>
<circle cx="482.2" cy="69.03" r="1.5" fill="#8a86c6"/>
<circle cx="420.2" cy="46.72" r="1.5" fill="#ec9a28"/>
<circle cx="482.2" cy="60.41" r="1.5" fill="#8a86c6"/>
<circle cx="420.2" cy="62.1" r="1.5" fill="#ec9a28"/>
<circle cx="482.2" cy="71.74" r="1.5" fill="#8a86c6"/>
<circle cx="420.2" cy="63.96" r="1.5" fill="#ec9a28"/>
<circle cx="482.2" cy="86.1" r="1.5" fill="#8a86c6"/>
<polyline points="420.2,150 420.2,155.3 480.4,155.3 480.4,150" fill="none" stroke="#606060" stroke-width="1.2"/>
<line x1="449.8" y1="155.3" x2="449.8" y2="160.2" stroke="#777" stroke-width="1.3"/>
<text x="450.3" y="169.4" font-size="6.5" text-anchor="middle" letter-spacing="0.6" fill="#222">*</text>
<text x="344.7" y="196.05" font-size="11.4" text-anchor="start" font-weight="bold" fill="#111">D</text>
<line x1="389.2" y1="212.5" x2="389.2" y2="300.1" stroke="#333" stroke-width="1.2"/>
<line x1="388.6" y1="299.45" x2="513.5" y2="299.45" stroke="#444" stroke-width="1.3"/>
<line x1="386.2" y1="299.3" x2="389.2" y2="299.3" stroke="#1a1a1a" stroke-width="1"/>
<text x="383.3" y="301.7" font-size="8" text-anchor="end" font-weight="normal" fill="#222">0</text>
<line x1="386.2" y1="282.5" x2="389.2" y2="282.5" stroke="#1a1a1a" stroke-width="1"/>
<text x="383.3" y="284.9" font-size="8" text-anchor="end" font-weight="normal" fill="#222">20</text>
<line x1="386.2" y1="265.7" x2="389.2" y2="265.7" stroke="#1a1a1a" stroke-width="1"/>
<text x="383.3" y="268.1" font-size="8" text-anchor="end" font-weight="normal" fill="#222">40</text>
<line x1="386.2" y1="248.9" x2="389.2" y2="248.9" stroke="#1a1a1a" stroke-width="1"/>
<text x="383.3" y="251.3" font-size="8" text-anchor="end" font-weight="normal" fill="#222">60</text>
<line x1="386.2" y1="232.1" x2="389.2" y2="232.1" stroke="#1a1a1a" stroke-width="1"/>
<text x="383.3" y="234.5" font-size="8" text-anchor="end" font-weight="normal" fill="#222">80</text>
<line x1="386.2" y1="215.3" x2="389.2" y2="215.3" stroke="#1a1a1a" stroke-width="1"/>
<text x="383.3" y="217.7" font-size="8" text-anchor="end" font-weight="normal" fill="#222">100</text>
<line x1="420.2" y1="299.5" x2="420.2" y2="302.1" stroke="#1a1a1a" stroke-width="1"/>
<line x1="482.2" y1="299.5" x2="482.2" y2="302.1" stroke="#1a1a1a" stroke-width="1"/>
<text x="420.2" y="312.6" font-size="7.9" text-anchor="middle" font-weight="normal" fill="#222">IL-7</text>
<text x="420.2" y="322.2" font-size="7.9" text-anchor="middle" font-weight="normal" fill="#222">Cultured</text>
<text x="482.2" y="312.6" font-size="7.9" text-anchor="middle" font-weight="normal" fill="#222">CD3</text>
<text x="482.2" y="322.2" font-size="7.9" text-anchor="middle" font-weight="normal" fill="#222">Activated</text>
<text transform="translate(361.0,254.1) rotate(-90) scale(0.67,1)" x="0" y="0" font-size="10" text-anchor="middle" dominant-baseline="central" font-weight="normal" fill="#222" style="stroke-width:0.4px">Relative telomere length (%)</text>
<line x1="420.2" y1="221.77" x2="482.2" y2="282.67" stroke="#4a4a4e" stroke-width="0.9"/>
<line x1="420.2" y1="230.67" x2="482.2" y2="285.19" stroke="#4a4a4e" stroke-width="0.9"/>
<line x1="420.2" y1="234.12" x2="482.2" y2="253.52" stroke="#4a4a4e" stroke-width="0.9"/>
<line x1="420.2" y1="239.07" x2="482.2" y2="263.77" stroke="#4a4a4e" stroke-width="0.9"/>
<line x1="420.2" y1="240.5" x2="482.2" y2="257.64" stroke="#4a4a4e" stroke-width="0.9"/>
<circle cx="420.2" cy="221.77" r="1.5" fill="#ec9a28"/>
<circle cx="482.2" cy="282.67" r="1.5" fill="#8a86c6"/>
<circle cx="420.2" cy="230.67" r="1.5" fill="#ec9a28"/>
<circle cx="482.2" cy="285.19" r="1.5" fill="#8a86c6"/>
<circle cx="420.2" cy="234.12" r="1.5" fill="#ec9a28"/>
<circle cx="482.2" cy="253.52" r="1.5" fill="#8a86c6"/>
<circle cx="420.2" cy="239.07" r="1.5" fill="#ec9a28"/>
<circle cx="482.2" cy="263.77" r="1.5" fill="#8a86c6"/>
<circle cx="420.2" cy="240.5" r="1.5" fill="#ec9a28"/>
<circle cx="482.2" cy="257.64" r="1.5" fill="#8a86c6"/>
<polyline points="420.2,329.9 420.2,335.2 480.4,335.2 480.4,329.9" fill="none" stroke="#606060" stroke-width="1.2"/>
<line x1="449.8" y1="335.2" x2="449.8" y2="340.1" stroke="#777" stroke-width="1.3"/>
<text x="450.3" y="349.3" font-size="6.5" text-anchor="middle" letter-spacing="0.6" fill="#222">**</text>
<rect x="0.5" y="0.5" width="519" height="357" fill="none" stroke="#707070" stroke-width="1"/>
</svg>
</body></html>
